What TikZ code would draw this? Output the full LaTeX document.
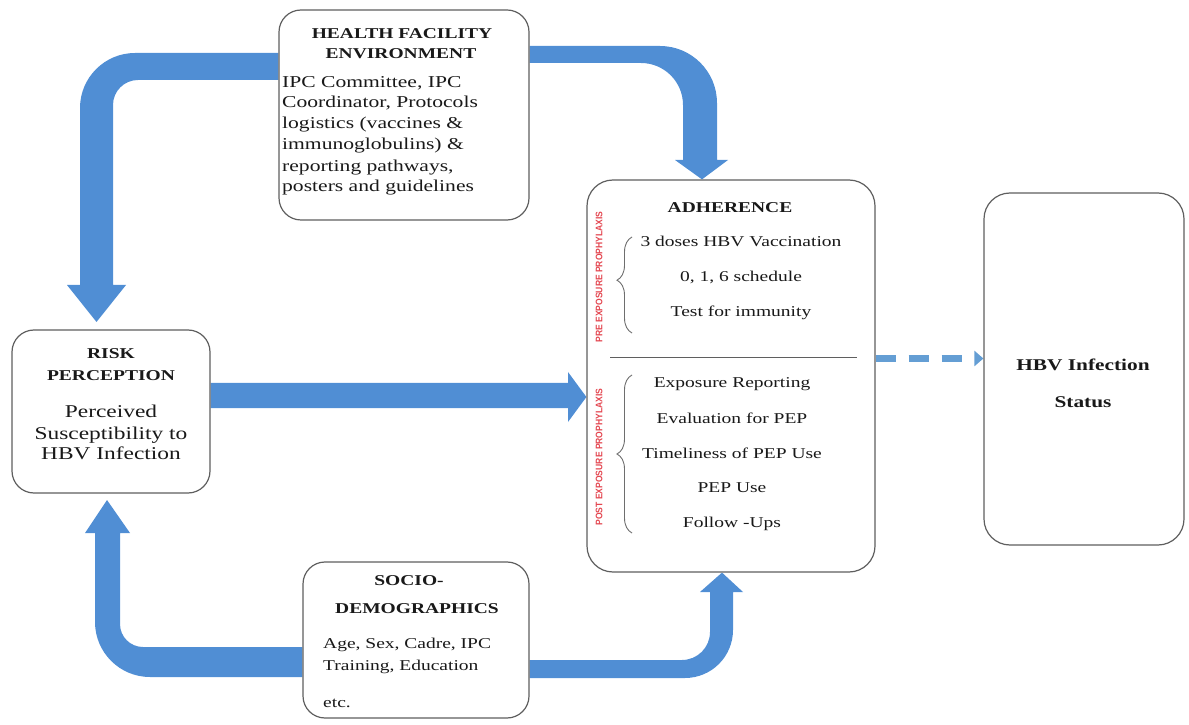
\documentclass[tikz,border=0pt]{standalone}
\usepackage{fontspec}
\setmainfont{Liberation Serif}
\newfontfamily\wide[FakeStretch=1.3]{Liberation Serif}
\newfontfamily\rsans[FakeStretch=0.9]{Liberation Sans}
\usetikzlibrary{decorations.pathreplacing,arrows.meta,calc}
\pgfdeclarelayer{background}
\pgfsetlayers{background,main}
\definecolor{arrowblue}{RGB}{80,142,212}
\definecolor{dashblue}{RGB}{100,158,212}
\definecolor{boxgray}{RGB}{95,95,95}
\definecolor{bracegray}{RGB}{110,110,110}
\definecolor{redlabel}{RGB}{228,70,80}
\definecolor{textblack}{RGB}{25,25,25}
\begin{document}
\begin{tikzpicture}[x=1pt,y=1pt,
  box/.style={draw=boxgray, line width=1.2pt, rounded corners=22pt, fill=white, inner sep=0pt},
  ttl/.style={inner sep=0pt, anchor=base, text=textblack, font=\wide\bfseries\fontsize{15}{18}\selectfont},
  hbody/.style={inner sep=0pt, anchor=base west, text=textblack, font=\wide\fontsize{16.6}{20}\selectfont},
  rbody/.style={inner sep=0pt, anchor=base, text=textblack, font=\wide\fontsize{18}{20}\selectfont},
  abody/.style={inner sep=0pt, anchor=base, text=textblack, font=\wide\fontsize{15}{18}\selectfont},
  sbody/.style={inner sep=0pt, anchor=base west, text=textblack, font=\wide\fontsize{15}{18}\selectfont},
  htl/.style={inner sep=0pt, anchor=base, text=textblack, font=\wide\bfseries\fontsize{16.4}{20}\selectfont},
  redtxt/.style={inner sep=0pt, rotate=90, text=redlabel, font=\rsans\bfseries\fontsize{9.5}{10}\selectfont},
  brc/.style={decorate, draw=bracegray, line width=0.9pt},
  bigarrow/.style={fill=arrowblue},
]
\useasboundingbox (0,0) rectangle (1189,724);

% boxes
\node[box, minimum width=250pt, minimum height=210pt] (hf) at (404,609) {};
\node[box, minimum width=198pt, minimum height=163pt] (rp) at (111,312.5) {};
\node[box, minimum width=288pt, minimum height=392pt, rounded corners=26pt] (ad) at (731,348) {};
\node[box, minimum width=200pt, minimum height=352pt, rounded corners=26pt] (hbv) at (1084,355) {};
\node[box, minimum width=226pt, minimum height=156pt] (sd) at (416,84) {};

\begin{pgfonlayer}{background}
% Health facility -> Risk perception
\fill[bigarrow] (hf.west |- 0,671) -- (135,671) arc[start angle=90,end angle=180,radius=55pt]
  -- (80,439) -- (67,439) -- (96.5,402) -- (126,439) -- (113,439) -- (113,619)
  arc[start angle=180,end angle=90,radius=25pt] -- (hf.west |- 0,644) -- cycle;
% Health facility -> Adherence
\fill[bigarrow] (hf.east |- 0,678) -- (660,678) arc[start angle=90,end angle=0,radius=57pt]
  -- (717,564) -- (728,564) -- (ad.north -| 702,0) -- (675,564) -- (683,564) -- (683,619)
  arc[start angle=0,end angle=90,radius=42pt] -- (hf.east |- 0,661) -- cycle;
% Socio-demographics -> Risk perception
\fill[bigarrow] (sd.west |- 0,77) -- (143,77) arc[start angle=270,end angle=180,radius=23pt]
  -- (120,191) -- (130,191) -- (107,224) -- (85,191) -- (95,191) -- (95,102)
  arc[start angle=180,end angle=270,radius=55pt] -- (sd.west |- 0,47) -- cycle;
% Socio-demographics -> Adherence
\fill[bigarrow] (sd.east |- 0,64) -- (682,64) arc[start angle=270,end angle=360,radius=28pt]
  -- (710,132) -- (700,132) -- (ad.south -| 722,0) -- (743,132) -- (733,132) -- (733,94)
  arc[start angle=0,end angle=-90,radius=48pt] -- (sd.east |- 0,46) -- cycle;
% Risk perception -> Adherence
\fill[bigarrow] (rp.east |- 0,341) -- (568,341) -- (568,352) -- (ad.west |- 0,327)
  -- (568,302) -- (568,316) -- (rp.east |- 0,316) -- cycle;
% Adherence -> HBV infection status (dashed)
\draw[dashblue, line width=6.5pt, dash pattern=on 20pt off 13pt,
  -{Triangle[length=9pt,width=15pt]}] (ad.east |- 0,365.5) -- (hbv.west |- 0,365.5);
\end{pgfonlayer}

% Health facility text
\node[ttl] (hft1) at (402,685.5) {HEALTH FACILITY};
\node[ttl] (hft2) at (401,665.5) {ENVIRONMENT};
\node[hbody] (hb1) at (282,636.5) {IPC Committee, IPC};
\node[hbody] (hb2) at (282,616.5) {Coordinator, Protocols};
\node[hbody] (hb3) at (282,595.5) {logistics (vaccines \&};
\node[hbody] (hb4) at (282,574.5) {immunoglobulins) \&};
\node[hbody] (hb5) at (282,552.5) {reporting pathways,};
\node[hbody] (hb6) at (282,532.5) {posters and guidelines};

% Risk perception text
\node[ttl] (rpt1) at (111,365.5) {RISK};
\node[ttl] (rpt2) at (111,343.5) {PERCEPTION};
\node[rbody] (rb1) at (111,306) {Perceived};
\node[rbody] (rb2) at (111,285) {Susceptibility to};
\node[rbody] (rb3) at (111,265) {HBV Infection};

% Adherence text
\node[ttl] (adt) at (730,511.5) {ADHERENCE};
\node[abody] (pre1) at (741,477) {3 doses HBV Vaccination};
\node[abody] (pre2) at (741,442) {0, 1, 6 schedule};
\node[abody] (pre3) at (741,407) {Test for immunity};
\node[abody] (post1) at (732,336) {Exposure Reporting};
\node[abody] (post2) at (732,301) {Evaluation for PEP};
\node[abody] (post3) at (732,266) {Timeliness of PEP Use};
\node[abody] (post4) at (732,232) {PEP Use};
\node[abody] (post5) at (732,197) {Follow -Ups};
\draw[boxgray, line width=1pt] (610,366) -- (857,366);
\draw[brc, decoration={brace, amplitude=15pt, aspect=0.55}] (632,391) -- (632,487);
\draw[brc, decoration={brace, amplitude=15pt, aspect=0.5}] (632,191) -- (632,349);
\node[redtxt] (prelab) at (599,447) {PRE EXPOSURE PROPHYLAXIS};
\node[redtxt] (postlab) at (599,267) {POST EXPOSURE PROPHYLAXIS};

% HBV infection status
\node[htl] (hbt1) at (1083,353.5) {HBV Infection};
\node[htl] (hbt2) at (1083,316.5) {Status};

% Socio-demographics text
\node[ttl] (sdt1) at (409,138.5) {SOCIO-};
\node[ttl] (sdt2) at (417,110.5) {DEMOGRAPHICS};
\node[sbody] (sb1) at (323,75.5) {Age, Sex, Cadre, IPC};
\node[sbody] (sb2) at (323,53.5) {Training, Education};
\node[sbody] (sb3) at (323,16.5) {etc.};
\end{tikzpicture}
\end{document}
